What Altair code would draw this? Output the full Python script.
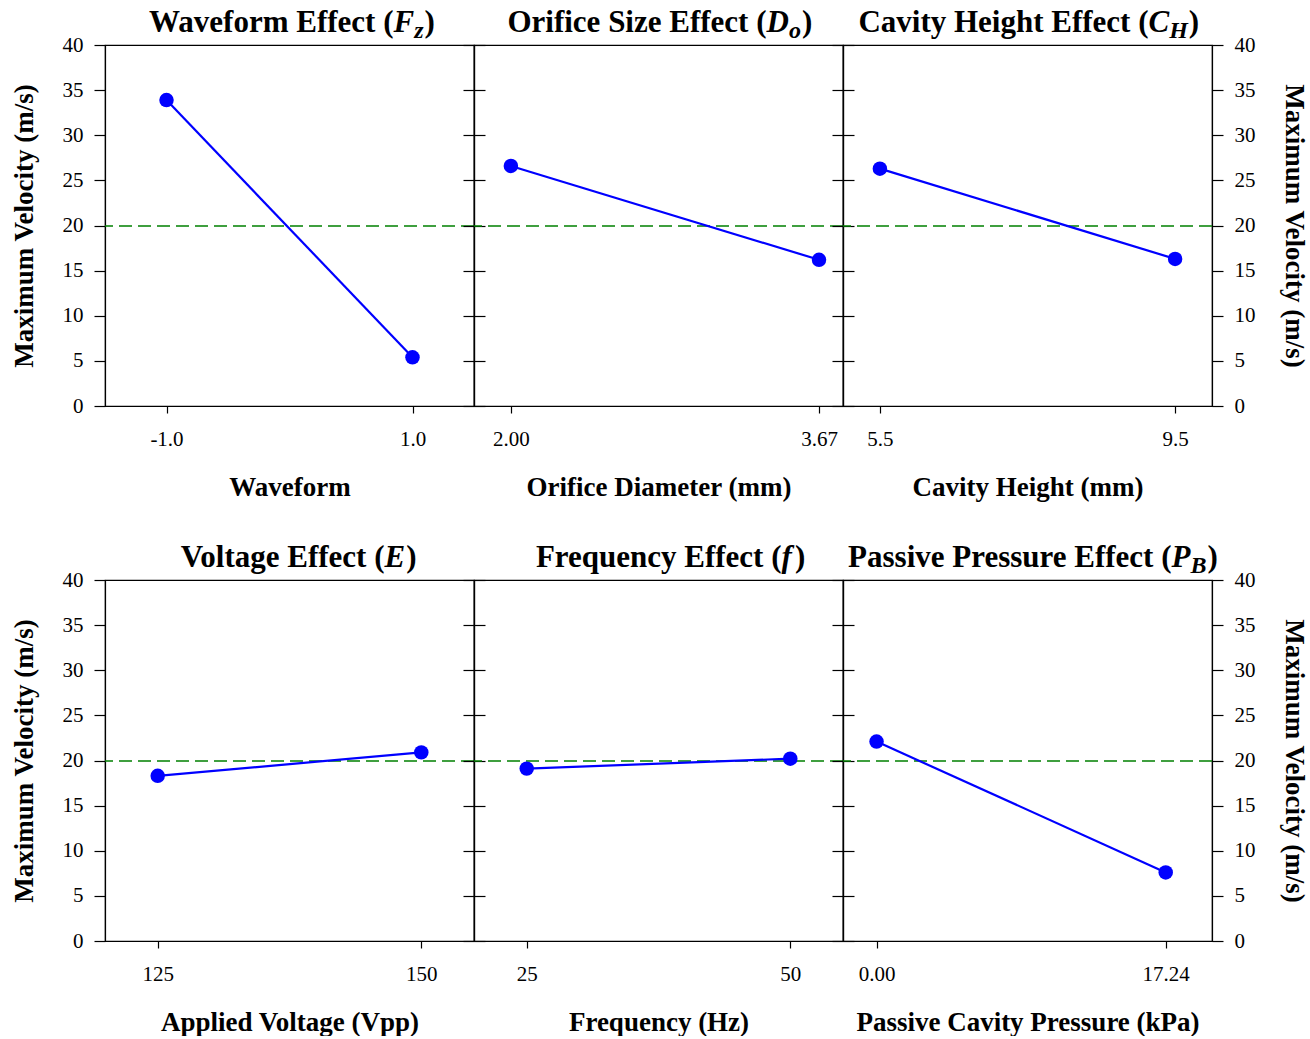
import altair as alt
import pandas as pd

# Factor levels and the mean maximum velocity (m/s) measured at each level
waveform_levels = [-1.0, 1.0]
waveform_velocity = [33.9, 5.4]

orifice_levels = [2.00, 3.67]
orifice_velocity = [26.6, 16.2]

cavity_levels = [5.5, 9.5]
cavity_velocity = [26.3, 16.3]

voltage_levels = [125, 150]
voltage_velocity = [18.3, 20.9]

frequency_levels = [25, 50]
frequency_velocity = [19.1, 20.2]

pressure_levels = [0.00, 17.24]
pressure_velocity = [22.1, 7.6]

# overall mean of all runs, drawn as the dashed reference line
grand_mean = [19.95]

FONT = "Liberation Serif"
BLUE = "#0000ff"
GREEN = "#008000"
Y_TICKS = list(range(0, 41, 5))
PANEL_W = 369
PANEL_H = 361
TITLE_SIZE = 31
SUB_SIZE = 24

# advance widths (em) of the italic symbols used in the panel titles
ITALIC_W = {"F": 0.667, "D": 0.722, "C": 0.667, "E": 0.667, "f": 0.40, "P": 0.611,
            "z": 0.389, "o": 0.50, "H": 0.778, "B": 0.667, "": 0.0}


def title_layers(prefix, sym, sub, anchor):
    """Title like 'Waveform Effect (F_z)' with an italic symbol and subscript."""
    x_sym = anchor
    x_sub = x_sym + ITALIC_W[sym] * TITLE_SIZE
    x_close = x_sub + ITALIC_W[sub] * SUB_SIZE + 1
    pieces = [
        (prefix, anchor, -13, TITLE_SIZE, "normal", "right"),
        (sym, x_sym, -13, TITLE_SIZE, "italic", "left"),
        (")", x_close, -13, TITLE_SIZE, "normal", "left"),
    ]
    if sub:
        pieces.append((sub, x_sub, -7, SUB_SIZE, "italic", "left"))
    layers = []
    for text, xp, yp, size, style, align in pieces:
        layers.append(
            alt.Chart(pd.DataFrame({"t": [text]}))
            .mark_text(font=FONT, fontSize=size, fontWeight="bold", fontStyle=style,
                       align=align, baseline="alphabetic", color="black")
            .encode(text="t:N", x=alt.value(xp), y=alt.value(yp))
        )
    return layers


def y_axis(orient, show_labels, title_pad):
    opts = dict(orient=orient, values=Y_TICKS, labels=show_labels, grid=False,
                tickSize=11, labelPadding=11, labelFontSize=21, labelFont=FONT,
                titleFont=FONT, titleFontSize=27, titleFontWeight="bold",
                titlePadding=title_pad)
    opts["title"] = "Maximum Velocity (m/s)" if show_labels else None
    return alt.Axis(**opts)


def panel(levels, velocity, domain, fmt, x_title, prefix, sym, sub, offset,
          left_labels=False, right_labels=False):
    df = pd.DataFrame({"level": levels, "velocity": velocity})
    x = alt.X("level:Q",
              scale=alt.Scale(domain=domain, nice=False, zero=False),
              axis=alt.Axis(values=levels, format=fmt, title=x_title, grid=False,
                            labelExpr="replace(datum.label, '\u2212', '-')",
                            tickSize=7, labelPadding=15, labelFontSize=21,
                            labelFont=FONT, labelFlush=False, labelOverlap=False,
                            titleFont=FONT, titleFontSize=27, titleFontWeight="bold",
                            titlePadding=25))
    yscale = alt.Scale(domain=[0, 40], nice=False, zero=True)
    left = y_axis("left", left_labels, 24)
    right = y_axis("right", right_labels, 24)

    mean_rule = (
        alt.Chart(pd.DataFrame({"mean": grand_mean}))
        .mark_rule(color=GREEN, strokeDash=[13, 6], strokeWidth=1.5)
        .encode(y=alt.Y("mean:Q", scale=yscale, axis=left))
    )
    line = alt.Chart(df).mark_line(color=BLUE, strokeWidth=2.2).encode(
        x=x, y=alt.Y("velocity:Q", scale=yscale, axis=left))
    dots = alt.Chart(df).mark_circle(color=BLUE, size=210, opacity=1).encode(
        x=x, y=alt.Y("velocity:Q", scale=yscale, axis=left))
    main = alt.layer(mean_rule, line, dots)

    right_layer = alt.Chart(df).mark_point(opacity=0).encode(
        x=x, y=alt.Y("velocity:Q", scale=yscale, axis=right))

    titles = title_layers(prefix, sym, sub, PANEL_W / 2 + offset)
    return (
        alt.layer(main, right_layer, *titles)
        .resolve_scale(y="independent")
        .properties(width=PANEL_W, height=PANEL_H)
    )


panels = [
    panel(waveform_levels, waveform_velocity, [-1.5, 1.5], ".1f", "Waveform",
          "Waveform Effect (", "F", "z", 104, left_labels=True),
    panel(orifice_levels, orifice_velocity, [1.8, 3.8], ".2f", "Orifice Diameter (mm)",
          "Orifice Size Effect (", "D", "o", 108),
    panel(cavity_levels, cavity_velocity, [5.0, 10.0], ".1f", "Cavity Height (mm)",
          "Cavity Height Effect (", "C", "H", 121, right_labels=True),
    panel(voltage_levels, voltage_velocity, [120, 155], "d", "Applied Voltage (Vpp)",
          "Voltage Effect (", "E", "", 95, left_labels=True),
    panel(frequency_levels, frequency_velocity, [20, 55], "d", "Frequency (Hz)",
          "Frequency Effect (", "f", "", 123),
    panel(pressure_levels, pressure_velocity, [-2, 20], ".2f", "Passive Cavity Pressure (kPa)",
          "Passive Pressure Effect (", "P", "B", 144, right_labels=True),
]

chart = (
    alt.concat(*panels, columns=3, spacing={"row": 174, "column": 0}, bounds="flush")
    .properties(padding={"left": 9, "top": 6, "right": 0, "bottom": 0},
                background="white")
    .configure_view(stroke="black", strokeWidth=1.2)
    .configure_axis(domainColor="black", domainWidth=1.2, tickColor="black",
                    tickWidth=1.2, labelColor="black", titleColor="black")
)

chart.save("out.html", embed_options={"renderer": "svg", "actions": False})
